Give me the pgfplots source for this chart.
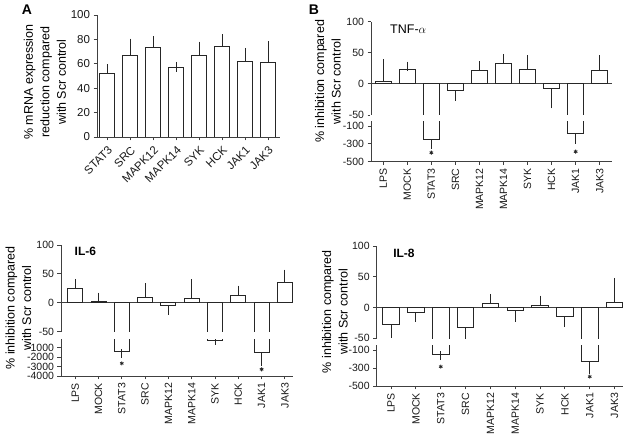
\documentclass[border=0pt]{standalone}
\usepackage{pgfplots}
\pgfplotsset{compat=1.18}
\usepackage{pgfplotstable}
\usepackage{fontspec}
\setmainfont{Liberation Sans}

% Panel A: x, value, error
\pgfplotstableread{
x y e
0 52 3.5
1 66.6 10
2 73.2 5.2
3 57 0.5
4 66.6 7.5
5 74.5 5.5
6 62 7
7 61.4 13
}\dataA

% TNF-alpha
\pgfplotstableread{
x y e
0 4.3 27.7
1 23 5.5
4 21.5 8
5 32.8 8.2
6 23 16
9 21.5 17.5
}\tnfpos
\pgfplotstableread{
x y e
2 -250 58
3 -10.7 9.3
7 -7 25
8 -180 68
}\tnfneg

% IL-6
\pgfplotstableread{
x y e
0 25 8.5
1 2 8
3 10 16
5 7 26
7 12 10
9 34.7 15
}\ilsixpos
\pgfplotstableread{
x y e
2 -1405 180
4 -4.6 8
6 -160 0
8 -1470 1000
}\ilsixneg

% IL-8
\pgfplotstableread{
x y e
4 6.5 8.5
6 2.7 9.3
9 9 32
}\ileightpos
\pgfplotstableread{
x y e
0 -28 14
1 -8 8
2 -145 17
3 -33 12
5 -4.3 11.7
7 -15 9.5
8 -230 92
}\ileightneg

\pgfplotsset{
  gp/.style={
    scale only axis, anchor=south west,
    axis x line*=bottom, axis y line*=left,
    axis line style={black!75, line width=0.9pt},
    tick style={black!75, line width=0.9pt},
    major tick length=3.5pt,
    tick align=outside,
    enlargelimits=false,
    /pgf/number format/assume math mode=true,
    ticklabel style={font=\fontsize{10.5}{12}\selectfont, black!90},
    error bars/error bar style={line width=0.9pt, black!85},
    error bars/error mark options={mark size=4.5pt, line width=0.9pt, black!85},
  },
  brk/.style={
    ytick={-50,50,100},
    extra y ticks={0}, extra y tick labels={0},
    extra y tick style={grid=major, major grid style={black!75, line width=0.9pt}},
    xtick={0,...,9}, xticklabels={LPS,MOCK,STAT3,SRC,MAPK12,MAPK14,SYK,HCK,JAK1,JAK3},
    xticklabel style={rotate=90, anchor=east},
  },
  gpbar/.style={ybar, bar shift=0pt, bar width=#1, fill=white, draw=black!85, line width=0.9pt},
  gpbar/.default=16pt,
  star/.style={only marks, mark=asterisk, mark size=2pt, black!85, mark options={line width=0.8pt}},
}

\begin{document}
\begin{tikzpicture}
\path[use as bounding box] (0pt,0pt) rectangle (629pt,441pt);

% ---------------- Panel A ----------------
\begin{axis}[gp, at={(97pt,304pt)}, width=183pt, height=122pt,
  xmin=-0.45, xmax=7.52, ymin=0, ymax=100,
  ytick={0,20,...,100},
  xtick={0,...,7},
  xticklabels={STAT3,SRC,MAPK12,MAPK14,SYK,HCK,JAK1,JAK3},
  xticklabel style={rotate=45, anchor=north east, font=\fontsize{11.5}{13}\selectfont},
  yticklabel style={font=\fontsize{11.5}{13}\selectfont},
  error bars/error mark options={mark size=5pt, line width=0.9pt, black!85},
]
\addplot[gpbar=15pt, error bars/.cd, y dir=plus, y explicit] table[x index=0,y index=1,y error index=2]{\dataA};
\end{axis}
\node[rotate=90, align=center, font=\fontsize{12.5}{16.5}\selectfont] at (45pt,359pt) {\% mRNA expression\\reduction compared\\with Scr control};
\node[font=\bfseries\fontsize{14}{14}\selectfont] at (27pt,431pt) {A};

% ---------------- Panel B: TNF-alpha ----------------
\begin{axis}[gp, brk, at={(371pt,279.5pt)}, width=240.7pt, height=139.8pt,
  y coord trafo/.code={\pgfmathparse{(#1<-95)?(-53.99+0.14148*(#1)):(#1)}},
  xmin=-0.51, xmax=9.5, ymin=-500, ymax=100,
  ytick={-500,-300,-100,-50,50,100}, yticklabels={-500,-300,-100,-50,50,100}]
\addplot[gpbar, error bars/.cd, y dir=plus, y explicit] table[x index=0,y index=1,y error index=2]{\tnfpos};
\addplot[gpbar, error bars/.cd, y dir=minus, y explicit] table[x index=0,y index=1,
  y error expr={(\thisrow{y} < -95)?(0.14148*\thisrow{e}):(\thisrow{e})}]{\tnfneg};
\addplot[star] coordinates {(2,-400) (8,-388)};
\node[anchor=west, inner sep=0pt, font=\fontsize{12.5}{14}\selectfont] at (axis cs:0.28,88.3) {TNF-$\alpha$};
\coordinate (tA) at (axis cs:-0.56,-50.75);
\coordinate (tB) at (axis cs:9.8,-59.65);
\end{axis}
\fill[white] (tA) rectangle (tB);
\node[rotate=90, align=center, font=\fontsize{12.5}{16.5}\selectfont] at (328pt,359.5pt) {\% inhibition compared\\with Scr control};
\node[font=\bfseries\fontsize{14}{14}\selectfont] at (314pt,431pt) {B};

% ---------------- IL-6 ----------------
\begin{axis}[gp, brk, at={(61pt,65pt)}, width=232.3pt, height=131pt,
  y coord trafo/.code={\pgfmathparse{(#1<-95)?(-61.82+0.016211*(#1)):(#1)}},
  xmin=-0.61, xmax=9.36, ymin=-4000, ymax=100,
  ytick={-4000,-3000,-2000,-1000,-50,50,100}, yticklabels={-4000,-3000,-2000,-1000,-50,50,100}]
\addplot[gpbar=15pt, error bars/.cd, y dir=plus, y explicit] table[x index=0,y index=1,y error index=2]{\ilsixpos};
\addplot[gpbar=15pt, error bars/.cd, y dir=minus, y explicit] table[x index=0,y index=1,
  y error expr={(\thisrow{y} < -95)?(0.016211*\thisrow{e}):(\thisrow{e})}]{\ilsixneg};
\addplot[star] coordinates {(2,-2650) (8,-3280)};
\node[anchor=west, inner sep=0pt, font=\bfseries\fontsize{12}{14}\selectfont] at (axis cs:-0.03,89.6) {IL-6};
\coordinate (sA) at (axis cs:-0.66,-50.75);
\coordinate (sB) at (axis cs:9.7,-62.63);
\end{axis}
\fill[white] (sA) rectangle (sB);
\node[rotate=90, align=center, font=\fontsize{12.5}{16.5}\selectfont] at (18.5pt,133pt) {\% inhibition compared\\with Scr control};

% ---------------- IL-8 ----------------
\begin{axis}[gp, brk, at={(376.7pt,55pt)}, width=246.6pt, height=140pt,
  y coord trafo/.code={\pgfmathparse{(#1<-95)?(-54.40+0.14634*(#1)):(#1)}},
  xmin=-0.58, xmax=9.35, ymin=-500, ymax=100,
  ytick={-500,-300,-100,-50,50,100}, yticklabels={-500,-300,-100,-50,50,100}]
\addplot[gpbar=16.5pt, error bars/.cd, y dir=plus, y explicit] table[x index=0,y index=1,y error index=2]{\ileightpos};
\addplot[gpbar=16.5pt, error bars/.cd, y dir=minus, y explicit] table[x index=0,y index=1,
  y error expr={(\thisrow{y} < -95)?(0.14634*\thisrow{e}):(\thisrow{e})}]{\ileightneg};
\addplot[star] coordinates {(2,-285) (8,-396)};
\node[anchor=west, inner sep=0pt, font=\bfseries\fontsize{12}{14}\selectfont] at (axis cs:0.08,88.6) {IL-8};
\coordinate (eA) at (axis cs:-0.63,-50.75);
\coordinate (eB) at (axis cs:9.7,-60.89);
\end{axis}
\fill[white] (eA) rectangle (eB);
\node[rotate=90, align=center, font=\fontsize{12.5}{16.5}\selectfont] at (335pt,129.3pt) {\% inhibition compared\\with Scr control};

\end{tikzpicture}
\end{document}
